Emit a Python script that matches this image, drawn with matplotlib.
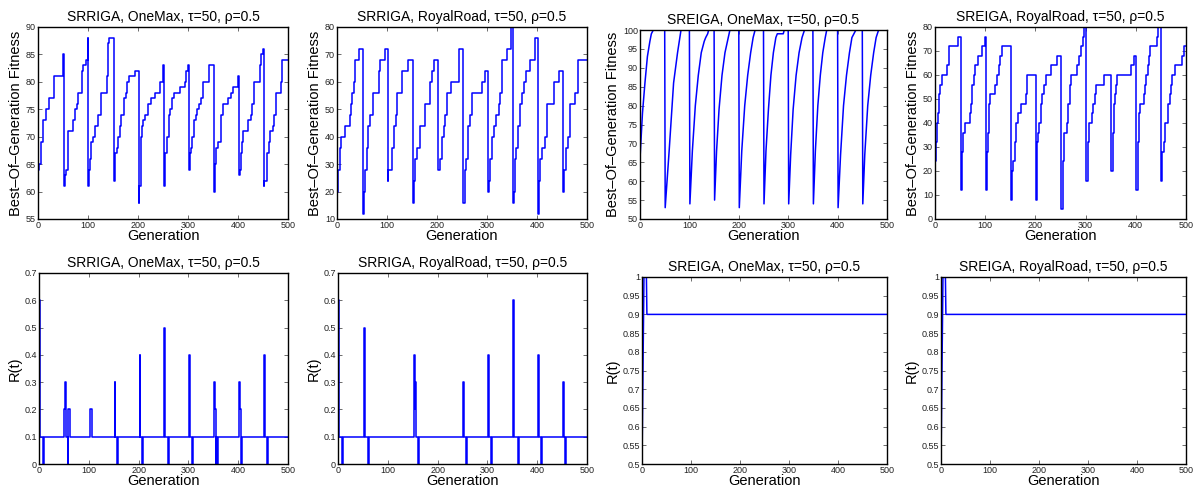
import matplotlib.pyplot as plt
from matplotlib.ticker import FormatStrFormatter
import numpy as np

plt.rcParams['font.family'] = ['Liberation Sans', 'DejaVu Sans']

# best-of-generation fitness, (generation, value) where the value changes
fit_srr_onemax = [(0, 64), (2, 65), (5, 69), (9, 73), (16, 75), (22, 77), (31, 81), (50, 85), (51, 61), (53, 63),
                  (56, 64), (60, 71), (70, 73), (73, 75), (77, 76), (80, 78), (87, 82), (90, 83), (95, 84), (99, 88),
                  (100, 61), (101, 64), (103, 66), (105, 69), (110, 70), (113, 72), (120, 74), (125, 78), (137, 81),
                  (139, 87), (142, 88), (151, 62), (154, 67), (157, 68), (160, 70), (163, 72), (166, 74), (172, 77),
                  (175, 78), (178, 80), (182, 81), (193, 82), (201, 58), (202, 61), (205, 70), (207, 72), (210, 73),
                  (213, 74), (220, 76), (225, 77), (233, 78), (243, 80), (250, 83), (251, 61), (254, 67), (258, 70),
                  (262, 74), (264, 75), (268, 77), (272, 78), (283, 79), (293, 80), (295, 82), (299, 83), (301, 64),
                  (303, 67), (305, 68), (308, 70), (312, 73), (315, 74), (318, 75), (321, 76), (325, 77), (330, 80),
                  (341, 83), (352, 60), (353, 65), (355, 68), (360, 69), (365, 74), (370, 76), (380, 77), (385, 78),
                  (390, 79), (400, 81), (401, 63), (403, 64), (405, 67), (407, 69), (410, 71), (420, 73), (425, 74),
                  (428, 76), (432, 80), (443, 83), (446, 85), (449, 86), (451, 61), (452, 62), (458, 67), (461, 69),
                  (463, 71), (469, 72), (472, 74), (475, 78), (485, 80), (487, 84), (500, 84)]

fit_srr_royal = [(0, 20), (2, 28), (5, 36), (8, 40), (16, 44), (25, 48), (27, 52), (30, 56), (33, 60), (35, 68),
                 (43, 72), (51, 12), (53, 20), (55, 28), (60, 36), (62, 44), (65, 48), (72, 56), (83, 64), (85, 68),
                 (96, 72), (101, 24), (102, 28), (110, 36), (113, 44), (117, 48), (120, 56), (130, 64), (142, 68),
                 (152, 16), (153, 24), (156, 32), (160, 36), (166, 44), (175, 52), (185, 60), (190, 64), (193, 68),
                 (201, 28), (206, 32), (210, 40), (213, 44), (216, 48), (220, 56), (228, 60), (243, 72), (252, 16),
                 (255, 28), (258, 32), (262, 44), (266, 48), (270, 56), (290, 60), (296, 64), (301, 20), (303, 24),
                 (306, 32), (310, 40), (314, 44), (318, 48), (324, 52), (326, 56), (330, 68), (340, 72), (348, 80),
                 (351, 16), (353, 20), (355, 32), (357, 36), (362, 44), (366, 52), (370, 56), (374, 60), (377, 64),
                 (385, 68), (396, 76), (401, 12), (403, 24), (405, 32), (409, 36), (415, 40), (420, 52), (433, 60),
                 (443, 64), (451, 20), (454, 28), (458, 36), (462, 40), (466, 52), (475, 56), (481, 68), (500, 68)]

fit_sre_onemax = [(0, 66), (5, 78), (10, 86), (15, 93), (20, 97), (23, 99), (27, 100), (50, 100),
                  (51, 53), (59, 68), (68, 86), (76, 94), (83, 100), (100, 100),
                  (101, 54), (106, 68), (112, 80), (118, 88), (124, 94), (130, 97), (133, 98), (137, 99), (139, 100), (150, 100),
                  (151, 55), (155, 68), (160, 79), (166, 88), (172, 94), (177, 97), (182, 100), (200, 100),
                  (201, 53), (206, 68), (212, 80), (218, 88), (224, 94), (229, 98), (233, 100), (250, 100),
                  (251, 54), (255, 68), (260, 79), (265, 88), (270, 94), (275, 98), (278, 99), (290, 99), (292, 100), (300, 100),
                  (301, 54), (305, 67), (310, 79), (316, 88), (322, 94), (328, 98), (333, 100), (350, 100),
                  (351, 54), (355, 68), (360, 80), (365, 88), (370, 94), (375, 98), (378, 100), (400, 100),
                  (401, 53), (406, 67), (412, 80), (418, 88), (424, 94), (429, 98), (433, 99), (437, 100), (450, 100),
                  (451, 54), (455, 67), (461, 80), (467, 88), (473, 94), (478, 98), (483, 100), (500, 100)]

fit_sre_royal = [(0, 24), (2, 32), (3, 40), (5, 44), (7, 52), (10, 56), (13, 60), (23, 64), (28, 72), (46, 76),
                 (51, 12), (54, 28), (56, 36), (60, 40), (70, 44), (72, 48), (74, 56), (77, 60), (80, 64), (86, 68),
                 (94, 72), (99, 76), (101, 12), (103, 28), (105, 36), (108, 48), (110, 52), (120, 56), (124, 60),
                 (127, 64), (130, 68), (133, 72), (151, 8), (153, 20), (156, 24), (159, 32), (162, 40), (165, 44),
                 (171, 48), (181, 52), (184, 60), (201, 8), (204, 32), (206, 36), (208, 40), (211, 48), (214, 52),
                 (218, 56), (221, 60), (232, 64), (243, 68), (251, 4), (254, 24), (257, 36), (262, 40), (265, 48),
                 (268, 56), (271, 60), (283, 64), (287, 68), (291, 72), (294, 76), (296, 80), (301, 16), (304, 32),
                 (307, 40), (312, 44), (315, 48), (318, 52), (321, 56), (336, 60), (351, 20), (354, 36), (356, 48),
                 (358, 52), (360, 56), (362, 60), (390, 64), (396, 68), (401, 12), (404, 32), (407, 44), (409, 48),
                 (417, 52), (419, 56), (421, 60), (424, 64), (426, 68), (429, 72), (442, 76), (445, 80), (451, 16),
                 (453, 28), (456, 32), (459, 40), (465, 48), (468, 52), (470, 56), (473, 60), (478, 64), (492, 68),
                 (497, 72), (500, 72)]

# R(t)
r_srr_onemax = [(0, 0.6), (3, 0.1), (8, 0), (10, 0.1), (50, 0.2), (52, 0.3), (55, 0.1), (58, 0), (59, 0.2), (62, 0.1),
                (102, 0.2), (106, 0.1), (152, 0.3), (153, 0.1), (156, 0), (158, 0.1), (202, 0.4), (203, 0.1),
                (206, 0), (208, 0.1), (252, 0.5), (254, 0.1), (259, 0), (261, 0.1), (302, 0.4), (303, 0.1),
                (307, 0), (309, 0.1), (352, 0.3), (353, 0.2), (355, 0), (356, 0.1), (358, 0), (360, 0.1),
                (401, 0.3), (403, 0.2), (405, 0), (407, 0.1), (452, 0.4), (454, 0.1), (458, 0), (460, 0.1), (500, 0.1)]

r_srr_royal = [(0, 0.6), (3, 0.1), (8, 0), (10, 0.1), (52, 0.5), (54, 0.1), (60, 0), (62, 0.1), (152, 0.4),
               (154, 0.2), (155, 0.3), (157, 0.1), (160, 0), (162, 0.1), (252, 0.3), (253, 0.1), (257, 0), (259, 0.1),
               (302, 0.4), (303, 0.1), (307, 0), (309, 0.1), (352, 0.6), (354, 0.1), (361, 0), (363, 0.1),
               (402, 0.4), (404, 0.1), (407, 0), (409, 0.1), (452, 0.3), (453, 0.1), (456, 0), (458, 0.1), (500, 0.1)]

r_sre_onemax = [(0, 0.5), (4, 1.0), (9, 1.0), (10, 0.9), (500, 0.9)]
r_sre_royal = [(0, 0.5), (4, 1.0), (9, 1.0), (10, 0.9), (500, 0.9)]

titles = ['SRRIGA, OneMax, τ=50, ρ=0.5', 'SRRIGA, RoyalRoad, τ=50, ρ=0.5',
          'SREIGA, OneMax, τ=50, ρ=0.5', 'SREIGA, RoyalRoad, τ=50, ρ=0.5']

W, H = 1194, 493
fig = plt.figure(figsize=(W / 100, H / 100), dpi=100)

# (left, top, right, bottom) in pixels, series, steps?, ylim, ytick step, title, ylabel
panels = [
    ((38, 27, 288, 219), fit_srr_onemax, True, (55, 90), 5, titles[0], 'Best–Of–Generation Fitness'),
    ((337, 27, 587, 219), fit_srr_royal, True, (10, 80), 10, titles[1], 'Best–Of–Generation Fitness'),
    ((640, 30, 887, 219), fit_sre_onemax, False, (50, 100), 5, titles[2], 'Best–Of–Generation Fitness'),
    ((935, 27, 1186, 219), fit_sre_royal, True, (0, 80), 10, titles[3], 'Best–Of–Generation Fitness'),
    ((39, 273, 288, 464), r_srr_onemax, True, (0, 0.7), 0.1, titles[0], 'R(t)'),
    ((338, 273, 587, 464), r_srr_royal, True, (0, 0.7), 0.1, titles[1], 'R(t)'),
    ((642, 277, 887, 464), r_sre_onemax, False, (0.5, 1.0), 0.05, titles[2], 'R(t)'),
    ((941, 277, 1186, 464), r_sre_royal, False, (0.5, 1.0), 0.05, titles[3], 'R(t)'),
]

for box, series, steps, ylim, ystep, title, ylabel in panels:
    l, t, r, b = box
    ax = fig.add_axes([l / W, 1 - b / H, (r - l) / W, (b - t) / H])
    x = [p[0] for p in series]
    y = [p[1] for p in series]
    if steps:
        ax.step(x, y, where='post', color='#0000ff', lw=1.1)
    else:
        ax.plot(x, y, color='#0000ff', lw=1.1)
    ax.set_xlim(0, 500)
    ax.set_ylim(*ylim)
    ax.set_xticks(np.arange(0, 501, 100))
    ax.set_yticks(np.round(np.arange(ylim[0], ylim[1] + ystep / 2, ystep), 2))
    ax.yaxis.set_major_formatter(FormatStrFormatter('%g'))
    ax.tick_params(direction='in', length=3, width=0.6, labelsize=6.5, pad=1.5,
                   top=True, right=True, colors='#555555', labelcolor='#222222')
    for s in ax.spines.values():
        s.set_linewidth(1.0)
    ax.set_title(title, fontsize=10, pad=4)
    ax.set_xlabel('Generation', fontsize=10.5, labelpad=-1)
    ax.set_ylabel(ylabel, fontsize=10.5, labelpad=2)

fig.savefig('out.png', dpi=100)
